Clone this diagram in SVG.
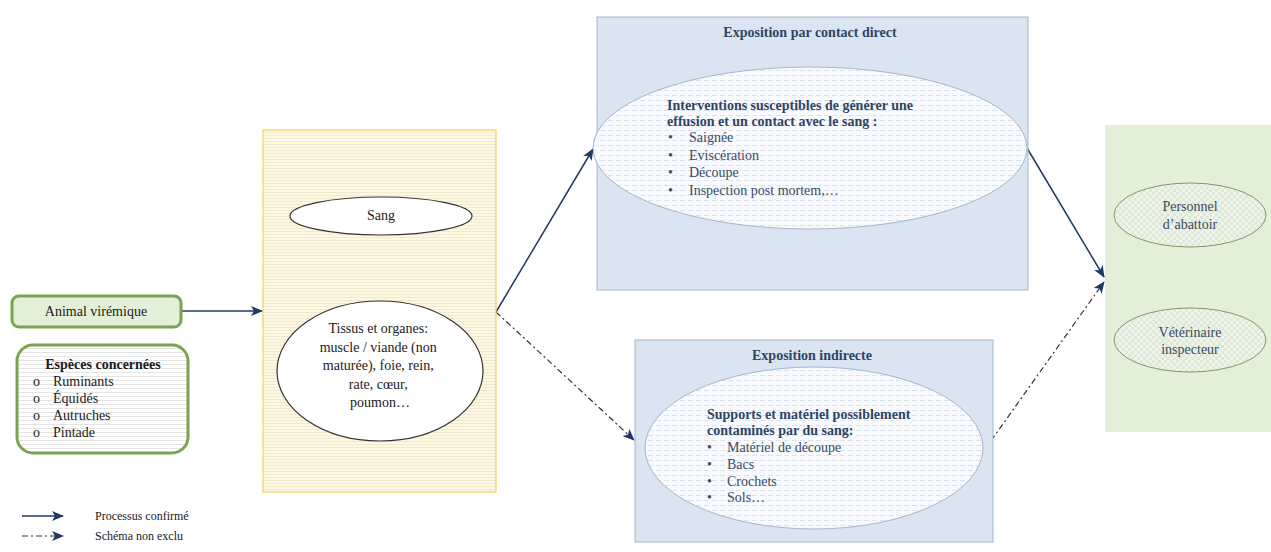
<svg xmlns="http://www.w3.org/2000/svg" width="1271" height="552" viewBox="0 0 1271 552" font-family="'Liberation Serif', 'DejaVu Serif', serif">
<style>
.t{font-family:'Liberation Serif',serif;font-size:14px;fill:#1a1a1a;}
.tb{font-family:'Liberation Serif',serif;font-size:14px;font-weight:bold;fill:#1a1a1a;}
.bt{font-family:'Liberation Serif',serif;font-size:14px;font-weight:bold;fill:#2e4566;}
.bl{font-family:'Liberation Serif',serif;font-size:14px;fill:#3a4a60;}
.gt{font-family:'Liberation Serif',serif;font-size:14px;fill:#3a4a60;}
.solid{stroke:#1f3864;stroke-width:1.5;fill:none;}
.dash{stroke:#333;stroke-width:1.2;fill:none;stroke-dasharray:6 3 2 3;}
</style>
<defs>
<marker id="ah" viewBox="0 0 12 10" refX="11" refY="5" markerWidth="12" markerHeight="10" markerUnits="userSpaceOnUse" orient="auto">
<path d="M0,0 L12,5 L0,10 L3,5 Z" fill="#1f3864"/>
</marker>
<pattern id="ystripe" width="6" height="3" patternUnits="userSpaceOnUse">
<rect width="6" height="3" fill="#fdf8e1"/>
<rect width="6" height="1" fill="#f1ead0"/>
</pattern>
<pattern id="gstripe" width="6" height="4" patternUnits="userSpaceOnUse">
<rect width="6" height="4" fill="#ffffff"/>
<rect width="6" height="1" fill="#e4e4e4"/>
</pattern>
<pattern id="dstripe" width="8" height="5" patternUnits="userSpaceOnUse">
<rect width="8" height="5" fill="#f8fafd"/>
<rect width="5" height="1" fill="#dde3ec"/>
</pattern>
<pattern id="check" width="6" height="6" patternUnits="userSpaceOnUse">
<rect width="6" height="6" fill="#eef4ea"/>
<rect width="3" height="3" fill="#dde8d6"/>
<rect x="3" y="3" width="3" height="3" fill="#dde8d6"/>
</pattern>
</defs>

<g id="connectors">
<line class="solid" x1="181" y1="311" x2="262" y2="311" marker-end="url(#ah)"/>
<line class="solid" x1="496" y1="312" x2="593" y2="149" marker-end="url(#ah)"/>
<line class="dash" x1="496" y1="312" x2="634" y2="440" marker-end="url(#ah)"/>
<line class="solid" x1="1027" y1="148" x2="1104" y2="277" marker-end="url(#ah)"/>
<line class="dash" x1="983" y1="452" x2="1104" y2="282" marker-end="url(#ah)"/>
</g>

<g id="animal">
<rect x="12" y="296" width="169" height="31" rx="7" fill="#e2efd9" stroke="#7ca350" stroke-width="3"/>
<text class="t" x="96" y="316" text-anchor="middle">Animal virémique</text>
</g>

<g id="especes">
<rect x="17" y="345" width="171" height="108" rx="16" fill="url(#gstripe)" stroke="#7ca350" stroke-width="3"/>
<text class="tb" x="103" y="369" text-anchor="middle">Espèces concernées</text>
<text class="t" x="33" y="386">o</text><text class="t" x="53" y="386">Ruminants</text>
<text class="t" x="33" y="403">o</text><text class="t" x="53" y="403">Équidés</text>
<text class="t" x="33" y="420">o</text><text class="t" x="53" y="420">Autruches</text>
<text class="t" x="33" y="437">o</text><text class="t" x="53" y="437">Pintade</text>
</g>

<g id="source">
<rect x="263" y="130" width="233" height="362" fill="url(#ystripe)" stroke="#f2d35f" stroke-width="1.2"/>
</g>
<g id="sang">
<ellipse cx="381" cy="216" rx="91" ry="19" fill="#fff" stroke="#333" stroke-width="1.2"/>
<text class="t" x="381" y="220" text-anchor="middle">Sang</text>
</g>
<g id="tissus">
<ellipse cx="380" cy="371" rx="103" ry="70" fill="#fff" stroke="#333" stroke-width="1.2"/>
<text class="t" text-anchor="middle">
<tspan x="380" y="333">Tissus et organes:</tspan>
<tspan x="380" y="351.5">muscle / viande (non</tspan>
<tspan x="380" y="370">maturée), foie, rein,</tspan>
<tspan x="380" y="388.5">rate, cœur,</tspan>
<tspan x="380" y="407">poumon…</tspan>
</text>
</g>

<g id="direct">
<rect x="597" y="17" width="431" height="273" fill="#dae5f1" stroke="#a3b6cc" stroke-width="1"/>
<text class="bt" x="810" y="37" text-anchor="middle">Exposition par contact direct</text>
<ellipse cx="810" cy="148" rx="217" ry="81" fill="url(#dstripe)" stroke="#a3b6cc" stroke-width="1"/>
<text class="bt" x="667" y="110">Interventions susceptibles de générer une</text>
<text class="bt" x="667" y="126">effusion et un contact avec le sang :</text>
<text class="bl" x="668" y="142">•</text><text class="bl" x="689" y="142">Saignée</text>
<text class="bl" x="668" y="160">•</text><text class="bl" x="689" y="160">Eviscération</text>
<text class="bl" x="668" y="177">•</text><text class="bl" x="689" y="177">Découpe</text>
<text class="bl" x="668" y="195">•</text><text class="bl" x="689" y="195">Inspection post mortem,…</text>
</g>

<g id="indirect">
<rect x="635" y="340" width="358" height="202" fill="#dae5f1" stroke="#a3b6cc" stroke-width="1"/>
<text class="bt" x="812" y="360" text-anchor="middle">Exposition indirecte</text>
<ellipse cx="814" cy="448" rx="169" ry="81" fill="url(#dstripe)" stroke="#a3b6cc" stroke-width="1"/>
<text class="bt" x="707" y="419">Supports et matériel possiblement</text>
<text class="bt" x="707" y="435">contaminés par du sang:</text>
<text class="bl" x="707" y="452">•</text><text class="bl" x="727" y="452">Matériel de découpe</text>
<text class="bl" x="707" y="469">•</text><text class="bl" x="727" y="469">Bacs</text>
<text class="bl" x="707" y="486">•</text><text class="bl" x="727" y="486">Crochets</text>
<text class="bl" x="707" y="502">•</text><text class="bl" x="727" y="502">Sols…</text>
</g>

<g id="cibles">
<rect x="1105" y="125" width="166" height="307" fill="#e2efd9"/>
</g>
<g id="personnel">
<ellipse cx="1190" cy="215" rx="76" ry="32" fill="url(#check)" stroke="#7f9a66" stroke-width="1"/>
<text class="gt" text-anchor="middle"><tspan x="1190" y="211">Personnel</tspan><tspan x="1190" y="229">d’abattoir</tspan></text>
</g>
<g id="veterinaire">
<ellipse cx="1190" cy="340" rx="76" ry="32" fill="url(#check)" stroke="#7f9a66" stroke-width="1"/>
<text class="gt" text-anchor="middle"><tspan x="1190" y="337">Vétérinaire</tspan><tspan x="1190" y="354">inspecteur</tspan></text>
</g>

<g id="legende">
<line class="solid" x1="22" y1="516" x2="63" y2="516" marker-end="url(#ah)"/>
<text class="t" x="95" y="520" style="font-size:12px">Processus confirmé</text>
<line class="dash" x1="22" y1="536" x2="63" y2="536" marker-end="url(#ah)"/>
<text class="t" x="95" y="540" style="font-size:12px">Schéma  non exclu</text>
</g>
</svg>
